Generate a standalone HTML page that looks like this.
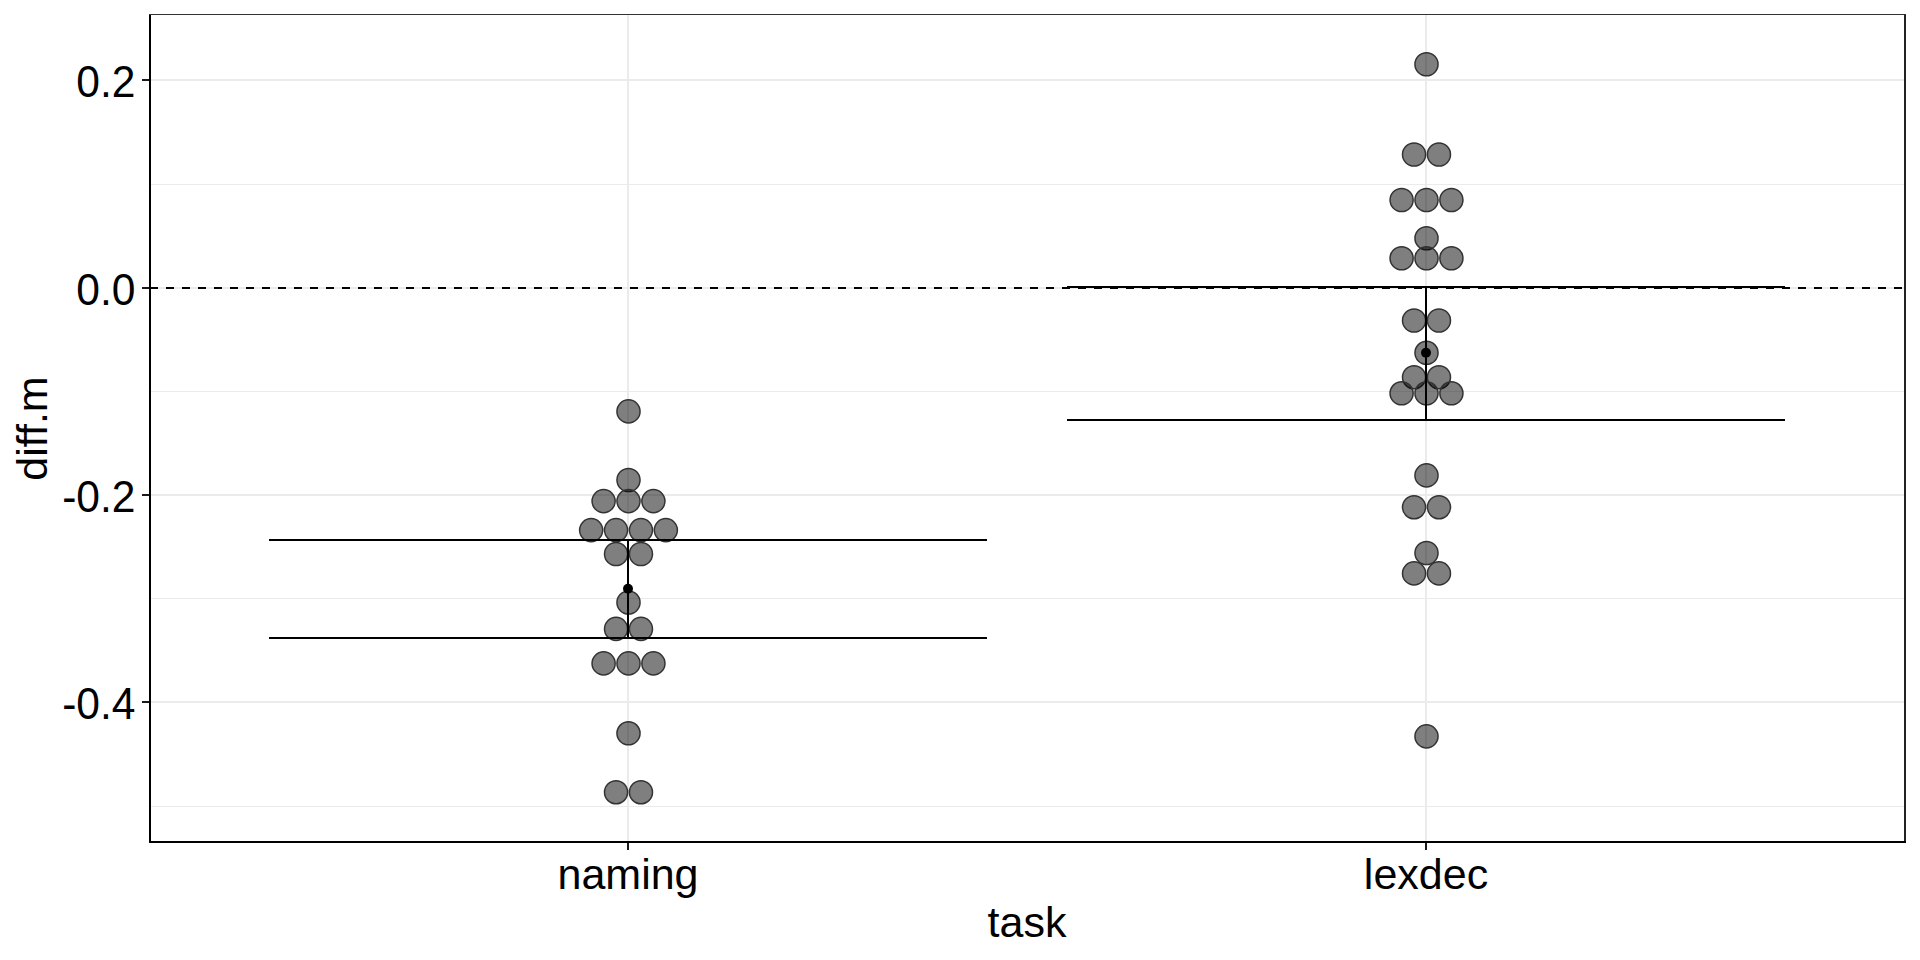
<!DOCTYPE html>
<html><head><meta charset="utf-8"><style>
html,body{margin:0;padding:0;background:#fff;}
body{width:1920px;height:960px;overflow:hidden;}
svg{display:block;}
text{font-family:"Liberation Sans",sans-serif;font-size:43.0px;fill:#000;}
</style></head><body>
<svg width="1920" height="960" viewBox="0 0 1920 960">
<rect width="1920" height="960" fill="#fff"/>
<g fill="#ebebeb" shape-rendering="crispEdges">
<rect x="151" y="79" width="1753" height="2"/>
<rect x="151" y="287" width="1753" height="2"/>
<rect x="151" y="494" width="1753" height="2"/>
<rect x="151" y="701" width="1753" height="2"/>
<rect x="151" y="183.75" width="1753" height="1"/>
<rect x="151" y="391.0" width="1753" height="1"/>
<rect x="151" y="598.25" width="1753" height="1"/>
<rect x="151" y="805.5" width="1753" height="1"/>
<rect x="627" y="15" width="2" height="826"/>
<rect x="1425" y="15" width="2" height="826"/>
</g>
<line x1="150" y1="288" x2="1904" y2="288" stroke="#000" stroke-width="2" stroke-dasharray="8 8" shape-rendering="crispEdges"/>
<g fill="rgba(0,0,0,0.5)" stroke="#333" stroke-width="1.5">
<circle cx="628.50" cy="411.40" r="11.55"/>
<circle cx="628.50" cy="480.00" r="11.55"/>
<circle cx="603.60" cy="501.10" r="11.55"/>
<circle cx="628.50" cy="501.10" r="11.55"/>
<circle cx="653.40" cy="501.10" r="11.55"/>
<circle cx="591.15" cy="530.10" r="11.55"/>
<circle cx="616.05" cy="530.10" r="11.55"/>
<circle cx="640.95" cy="530.10" r="11.55"/>
<circle cx="665.85" cy="530.10" r="11.55"/>
<circle cx="616.05" cy="554.00" r="11.55"/>
<circle cx="640.95" cy="554.00" r="11.55"/>
<circle cx="628.50" cy="602.50" r="11.55"/>
<circle cx="616.05" cy="628.90" r="11.55"/>
<circle cx="640.95" cy="628.90" r="11.55"/>
<circle cx="603.60" cy="663.40" r="11.55"/>
<circle cx="628.50" cy="663.40" r="11.55"/>
<circle cx="653.40" cy="663.40" r="11.55"/>
<circle cx="628.50" cy="733.30" r="11.55"/>
<circle cx="616.05" cy="792.20" r="11.55"/>
<circle cx="640.95" cy="792.20" r="11.55"/>
<circle cx="1426.50" cy="64.25" r="11.55"/>
<circle cx="1414.05" cy="154.50" r="11.55"/>
<circle cx="1438.95" cy="154.50" r="11.55"/>
<circle cx="1401.60" cy="200.00" r="11.55"/>
<circle cx="1426.50" cy="200.00" r="11.55"/>
<circle cx="1451.40" cy="200.00" r="11.55"/>
<circle cx="1426.50" cy="238.25" r="11.55"/>
<circle cx="1401.60" cy="258.25" r="11.55"/>
<circle cx="1426.50" cy="258.25" r="11.55"/>
<circle cx="1451.40" cy="258.25" r="11.55"/>
<circle cx="1414.05" cy="320.50" r="11.55"/>
<circle cx="1438.95" cy="320.50" r="11.55"/>
<circle cx="1426.50" cy="352.80" r="11.55"/>
<circle cx="1414.05" cy="377.20" r="11.55"/>
<circle cx="1438.95" cy="377.20" r="11.55"/>
<circle cx="1401.60" cy="393.30" r="11.55"/>
<circle cx="1426.50" cy="393.30" r="11.55"/>
<circle cx="1451.40" cy="393.30" r="11.55"/>
<circle cx="1426.50" cy="475.40" r="11.55"/>
<circle cx="1414.05" cy="507.20" r="11.55"/>
<circle cx="1438.95" cy="507.20" r="11.55"/>
<circle cx="1426.50" cy="553.00" r="11.55"/>
<circle cx="1414.05" cy="573.40" r="11.55"/>
<circle cx="1438.95" cy="573.40" r="11.55"/>
<circle cx="1426.50" cy="736.35" r="11.55"/>
</g>
<g fill="#000" shape-rendering="crispEdges">
<rect x="269" y="539" width="718" height="2"/>
<rect x="269" y="637" width="718" height="2"/>
<rect x="627" y="540" width="2" height="98"/>
<rect x="1067" y="286" width="718" height="2"/>
<rect x="1067" y="419" width="718" height="2"/>
<rect x="1425" y="287" width="2" height="133"/>
</g>
<circle cx="628" cy="588.8" r="5" fill="#000"/>
<circle cx="1426" cy="352.7" r="5" fill="#000"/>
<g shape-rendering="crispEdges">
<rect x="149" y="14" width="2" height="829" fill="#000"/>
<rect x="1904" y="14" width="2" height="829" fill="#222"/>
<rect x="149" y="14" width="1757" height="1" fill="#333"/>
<rect x="149" y="841" width="1757" height="2" fill="#000"/>
</g>
<g fill="#1a1a1a" shape-rendering="crispEdges">
<rect x="142" y="79" width="7" height="2"/>
<rect x="142" y="287" width="7" height="2"/>
<rect x="142" y="494" width="7" height="2"/>
<rect x="142" y="701" width="7" height="2"/>
<rect x="627" y="843" width="2" height="7"/>
<rect x="1425" y="843" width="2" height="7"/>
</g>
<text transform="translate(135.5,96.5) scale(0.99,1.037)" text-anchor="end">0.2</text>
<text transform="translate(135.5,304.5) scale(0.99,1.037)" text-anchor="end">0.0</text>
<text transform="translate(135.5,511.5) scale(0.99,1.037)" text-anchor="end">-0.2</text>
<text transform="translate(135.5,718.5) scale(0.99,1.037)" text-anchor="end">-0.4</text>
<text x="628" y="889" text-anchor="middle">naming</text>
<text x="1426" y="889" text-anchor="middle">lexdec</text>
<text x="1027" y="937" text-anchor="middle">task</text>
<text transform="translate(47,428.5) rotate(-90)" text-anchor="middle">diff.m</text>
</svg>
</body></html>
